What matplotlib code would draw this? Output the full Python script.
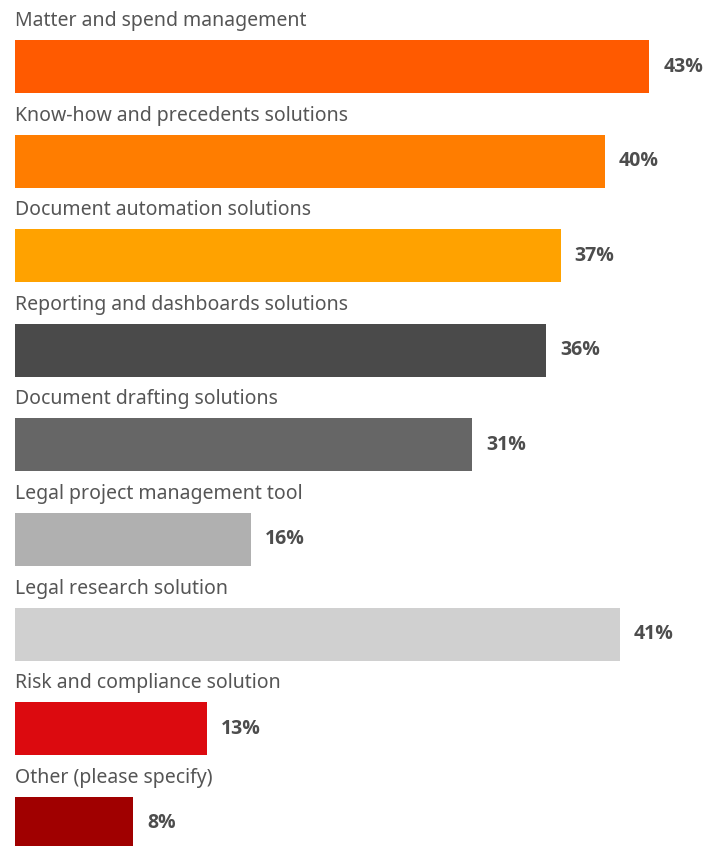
import matplotlib
matplotlib.use("Agg")
import matplotlib.pyplot as plt

categories = [
    "Matter and spend management",
    "Know-how and precedents solutions",
    "Document automation solutions",
    "Reporting and dashboards solutions",
    "Document drafting solutions",
    "Legal project management tool",
    "Legal research solution",
    "Risk and compliance solution",
    "Other (please specify)",
]
values = [43, 40, 37, 36, 31, 16, 41, 13, 8]
colors = ["#FF5A00", "#FF7D00", "#FFA200", "#4A4A4A", "#666666",
          "#B0B0B0", "#D0D0D0", "#DC0A0F", "#A00000"]

W, H, DPI = 711, 846, 100
fig = plt.figure(figsize=(W / DPI, H / DPI), dpi=DPI)
left = 15 / W
ax = fig.add_axes([left, 0, 1 - left, 1])

px_per_pct = 14.75
ax.set_xlim(0, (W - 15) / px_per_pct)
step = 94.6
ax.set_ylim((H - 66.5) / step, -66.5 / step)

bar_h = 53 / step
ys = list(range(len(categories)))
ax.barh(ys, values, height=bar_h, color=colors, left=0)

for y, cat, v in zip(ys, categories, values):
    ax.text(0, y - bar_h / 2 - 14 / step, cat, fontsize=14, color="#555555",
            va="baseline", ha="left", family=["Noto Sans", "DejaVu Sans"])
    ax.text(v + 14 / px_per_pct, y, f"{v}%", fontsize=14, color="#4D4D4D",
            va="center", ha="left", fontweight="bold",
            family=["Open Sans", "DejaVu Sans"])

ax.axis("off")
fig.savefig("out.png", dpi=DPI)
